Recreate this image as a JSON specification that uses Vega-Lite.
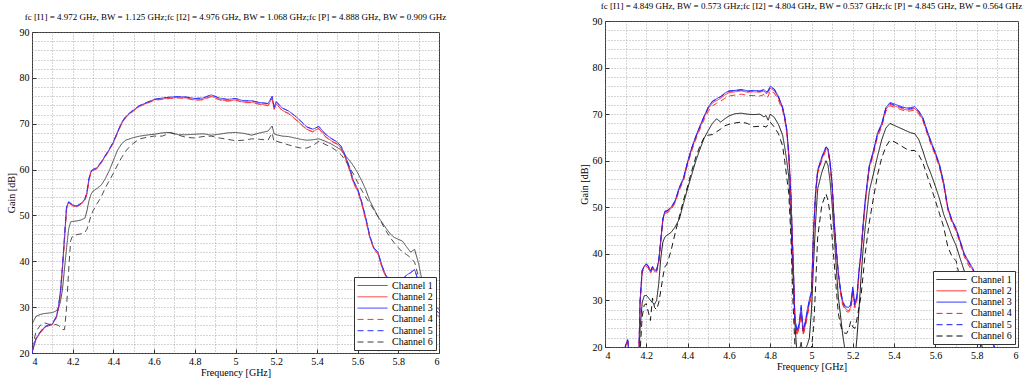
{
"$schema": "https://vega.github.io/schema/vega-lite/v6.json",
"padding": {"left": 5, "top": 1, "right": 0, "bottom": 0},
"spacing": 130,
"config": {
 "font": "Liberation Serif",
 "view": {"stroke": "#333", "strokeWidth": 1},
 "axis": {"labelFont": "Liberation Serif", "labelFontSize": 10, "labelColor": "#000", "titleFont": "Liberation Serif", "titleFontSize": 10, "titleFontWeight": "normal", "titleColor": "#000", "domain": false, "gridColor": "#888", "gridDash": [1, 2], "gridWidth": 0.7, "tickColor": "#333", "tickSize": -4, "labelPadding": 7, "titlePadding": 3},
 "axisX": {"titlePadding": 1},
 "title": {"font": "Liberation Serif", "fontSize": 9, "fontWeight": "normal", "color": "#000", "offset": 5},
 "legend": {"labelFont": "Liberation Serif", "labelFontSize": 10, "labelColor": "#000", "fillColor": "white", "strokeColor": "#333", "padding": 3, "symbolType": "M-3,0H3", "symbolStrokeWidth": 1, "symbolSize": 100, "symbolOffset": 10, "labelOffset": 14, "rowPadding": 0.3, "offset": 3, "title": null}
},
"datasets": {
"L": [
{"f":4.00,"c1":26.3,"c2":20.2,"c3":20.0,"c4":20.4,"c5":20.1,"c6":21.0},
{"f":4.02,"c1":28.0,"c2":23.0,"c3":23.2,"c4":23.1,"c5":23.3,"c6":24.7},
{"f":4.04,"c1":28.4,"c2":24.4,"c3":24.5,"c4":24.3,"c5":24.6,"c6":26.0},
{"f":4.06,"c1":28.6,"c2":25.5,"c3":25.6,"c4":25.4,"c5":25.7,"c6":26.6},
{"f":4.08,"c1":28.7,"c2":26.0,"c3":26.0,"c4":25.9,"c5":26.1,"c6":26.3},
{"f":4.10,"c1":28.8,"c2":26.2,"c3":26.3,"c4":26.2,"c5":26.4,"c6":26.2},
{"f":4.12,"c1":29.2,"c2":27.8,"c3":28.0,"c4":27.7,"c5":28.0,"c6":26.2},
{"f":4.13,"c1":29.8,"c2":29.8,"c3":30.0,"c4":29.7,"c5":30.1,"c6":26.0},
{"f":4.14,"c1":31.2,"c2":33.2,"c3":33.5,"c4":33.0,"c5":33.6,"c6":25.6},
{"f":4.15,"c1":34.0,"c2":38.6,"c3":39.0,"c4":38.4,"c5":39.1,"c6":25.1},
{"f":4.16,"c1":38.5,"c2":45.0,"c3":45.5,"c4":44.8,"c5":45.6,"c6":25.1},
{"f":4.17,"c1":43.0,"c2":51.6,"c3":52.0,"c4":51.4,"c5":52.1,"c6":30.0},
{"f":4.18,"c1":47.0,"c2":52.8,"c3":52.9,"c4":52.7,"c5":53.0,"c6":38.0},
{"f":4.19,"c1":48.6,"c2":52.5,"c3":52.6,"c4":52.4,"c5":52.7,"c6":44.5},
{"f":4.20,"c1":48.7,"c2":52.2,"c3":52.3,"c4":52.1,"c5":52.3,"c6":45.6},
{"f":4.22,"c1":48.8,"c2":51.9,"c3":52.0,"c4":51.8,"c5":52.1,"c6":45.8},
{"f":4.24,"c1":49.0,"c2":52.5,"c3":52.6,"c4":52.4,"c5":52.6,"c6":46.0},
{"f":4.26,"c1":49.4,"c2":53.4,"c3":53.5,"c4":53.3,"c5":53.6,"c6":46.3},
{"f":4.27,"c1":51.0,"c2":54.8,"c3":55.0,"c4":54.7,"c5":55.1,"c6":47.0},
{"f":4.28,"c1":53.2,"c2":57.8,"c3":58.0,"c4":57.6,"c5":58.1,"c6":48.4},
{"f":4.29,"c1":54.6,"c2":59.5,"c3":59.6,"c4":59.4,"c5":59.7,"c6":50.0},
{"f":4.30,"c1":55.3,"c2":59.9,"c3":60.0,"c4":59.8,"c5":60.0,"c6":51.0},
{"f":4.32,"c1":55.9,"c2":60.3,"c3":60.4,"c4":60.2,"c5":60.5,"c6":52.6},
{"f":4.34,"c1":56.6,"c2":61.5,"c3":61.6,"c4":61.4,"c5":61.7,"c6":54.0},
{"f":4.36,"c1":58.0,"c2":62.9,"c3":63.0,"c4":62.8,"c5":63.1,"c6":56.0},
{"f":4.38,"c1":59.8,"c2":64.3,"c3":64.4,"c4":64.2,"c5":64.5,"c6":57.6},
{"f":4.40,"c1":62.0,"c2":65.9,"c3":66.0,"c4":65.8,"c5":66.1,"c6":59.2},
{"f":4.42,"c1":64.2,"c2":68.0,"c3":68.2,"c4":67.9,"c5":68.2,"c6":61.0},
{"f":4.44,"c1":65.6,"c2":70.0,"c3":70.2,"c4":69.9,"c5":70.2,"c6":62.6},
{"f":4.46,"c1":66.4,"c2":71.4,"c3":71.5,"c4":71.3,"c5":71.6,"c6":64.0},
{"f":4.48,"c1":66.7,"c2":72.2,"c3":72.3,"c4":72.1,"c5":72.4,"c6":65.0},
{"f":4.50,"c1":67.0,"c2":72.9,"c3":73.0,"c4":72.8,"c5":73.1,"c6":65.8},
{"f":4.53,"c1":67.3,"c2":73.9,"c3":74.0,"c4":73.8,"c5":74.0,"c6":66.7},
{"f":4.56,"c1":67.5,"c2":74.4,"c3":74.5,"c4":74.3,"c5":74.6,"c6":67.0},
{"f":4.60,"c1":67.7,"c2":75.2,"c3":75.3,"c4":75.1,"c5":75.3,"c6":67.3},
{"f":4.64,"c1":68.0,"c2":75.4,"c3":75.6,"c4":75.3,"c5":75.6,"c6":67.3},
{"f":4.68,"c1":68.1,"c2":75.6,"c3":75.8,"c4":75.5,"c5":75.8,"c6":68.0},
{"f":4.72,"c1":67.6,"c2":75.7,"c3":75.9,"c4":75.6,"c5":75.9,"c6":67.5},
{"f":4.76,"c1":67.6,"c2":75.6,"c3":75.8,"c4":75.5,"c5":75.8,"c6":67.0},
{"f":4.80,"c1":67.7,"c2":75.2,"c3":75.5,"c4":75.1,"c5":75.5,"c6":66.9},
{"f":4.84,"c1":67.8,"c2":75.3,"c3":75.6,"c4":75.2,"c5":75.6,"c6":67.2},
{"f":4.88,"c1":67.5,"c2":76.0,"c3":76.3,"c4":75.9,"c5":76.3,"c6":67.3},
{"f":4.92,"c1":67.7,"c2":75.3,"c3":75.6,"c4":75.2,"c5":75.6,"c6":66.9},
{"f":4.96,"c1":68.0,"c2":75.0,"c3":75.3,"c4":74.9,"c5":75.3,"c6":66.6},
{"f":5.00,"c1":68.1,"c2":75.2,"c3":75.5,"c4":75.1,"c5":75.5,"c6":66.3},
{"f":5.04,"c1":67.9,"c2":74.7,"c3":75.0,"c4":74.6,"c5":75.0,"c6":66.4},
{"f":5.08,"c1":67.5,"c2":74.7,"c3":75.0,"c4":74.6,"c5":75.0,"c6":66.7},
{"f":5.12,"c1":68.0,"c2":74.3,"c3":74.6,"c4":74.2,"c5":74.6,"c6":66.6},
{"f":5.16,"c1":68.4,"c2":74.0,"c3":74.4,"c4":73.9,"c5":74.4,"c6":66.4},
{"f":5.18,"c1":69.5,"c2":75.5,"c3":76.0,"c4":75.4,"c5":75.9,"c6":68.0},
{"f":5.19,"c1":67.8,"c2":73.2,"c3":73.6,"c4":73.1,"c5":73.6,"c6":66.0},
{"f":5.20,"c1":67.6,"c2":74.4,"c3":74.8,"c4":74.3,"c5":74.8,"c6":66.2},
{"f":5.23,"c1":67.3,"c2":72.9,"c3":73.4,"c4":72.8,"c5":73.4,"c6":65.8},
{"f":5.26,"c1":67.2,"c2":72.3,"c3":72.8,"c4":72.2,"c5":72.8,"c6":65.4},
{"f":5.29,"c1":66.9,"c2":71.2,"c3":71.8,"c4":71.1,"c5":71.8,"c6":65.0},
{"f":5.32,"c1":66.6,"c2":70.0,"c3":70.6,"c4":69.9,"c5":70.6,"c6":64.7},
{"f":5.35,"c1":66.4,"c2":68.8,"c3":69.3,"c4":68.7,"c5":69.3,"c6":64.7},
{"f":5.38,"c1":66.5,"c2":68.3,"c3":68.8,"c4":68.2,"c5":68.8,"c6":65.2},
{"f":5.41,"c1":66.7,"c2":69.0,"c3":69.4,"c4":68.9,"c5":69.4,"c6":66.2},
{"f":5.44,"c1":66.2,"c2":67.3,"c3":67.8,"c4":67.2,"c5":67.8,"c6":65.5},
{"f":5.47,"c1":65.6,"c2":66.3,"c3":66.8,"c4":66.2,"c5":66.8,"c6":64.9},
{"f":5.50,"c1":64.8,"c2":65.6,"c3":66.0,"c4":65.5,"c5":66.0,"c6":64.0},
{"f":5.52,"c1":64.2,"c2":64.6,"c3":65.0,"c4":64.5,"c5":65.0,"c6":63.2},
{"f":5.54,"c1":63.0,"c2":62.6,"c3":63.0,"c4":62.5,"c5":63.0,"c6":62.0},
{"f":5.56,"c1":62.0,"c2":60.0,"c3":60.5,"c4":59.9,"c5":60.5,"c6":60.5},
{"f":5.58,"c1":60.8,"c2":57.1,"c3":57.5,"c4":57.0,"c5":57.5,"c6":59.0},
{"f":5.60,"c1":59.3,"c2":55.4,"c3":55.8,"c4":55.3,"c5":55.8,"c6":57.2},
{"f":5.62,"c1":57.6,"c2":52.6,"c3":53.0,"c4":52.5,"c5":53.0,"c6":55.5},
{"f":5.64,"c1":55.6,"c2":49.1,"c3":49.5,"c4":49.0,"c5":49.5,"c6":54.0},
{"f":5.66,"c1":53.2,"c2":45.2,"c3":45.5,"c4":45.1,"c5":45.5,"c6":52.6},
{"f":5.68,"c1":51.5,"c2":42.7,"c3":42.9,"c4":42.6,"c5":42.9,"c6":51.2},
{"f":5.70,"c1":49.7,"c2":41.7,"c3":42.0,"c4":41.6,"c5":42.0,"c6":49.8},
{"f":5.72,"c1":48.5,"c2":38.7,"c3":39.0,"c4":38.6,"c5":39.0,"c6":48.2},
{"f":5.74,"c1":47.2,"c2":36.5,"c3":36.8,"c4":36.4,"c5":36.8,"c6":46.6},
{"f":5.76,"c1":46.0,"c2":35.4,"c3":36.0,"c4":35.3,"c5":36.0,"c6":45.2},
{"f":5.78,"c1":45.2,"c2":35.4,"c3":36.4,"c4":35.2,"c5":36.4,"c6":44.0},
{"f":5.80,"c1":44.8,"c2":35.2,"c3":36.4,"c4":35.0,"c5":36.4,"c6":43.0},
{"f":5.82,"c1":44.4,"c2":34.8,"c3":36.0,"c4":34.6,"c5":36.0,"c6":42.0},
{"f":5.84,"c1":43.2,"c2":35.6,"c3":37.0,"c4":35.4,"c5":37.0,"c6":41.5},
{"f":5.86,"c1":42.0,"c2":36.0,"c3":37.5,"c4":35.8,"c5":37.5,"c6":40.8},
{"f":5.88,"c1":42.6,"c2":36.5,"c3":38.2,"c4":36.3,"c5":38.2,"c6":39.8},
{"f":5.90,"c1":39.5,"c2":34.2,"c3":35.5,"c4":34.0,"c5":35.5,"c6":36.5},
{"f":5.92,"c1":35.0,"c2":32.4,"c3":33.5,"c4":32.2,"c5":33.5,"c6":33.0},
{"f":5.94,"c1":32.0,"c2":31.0,"c3":32.0,"c4":30.8,"c5":32.0,"c6":31.6},
{"f":5.96,"c1":31.0,"c2":29.6,"c3":30.5,"c4":29.4,"c5":30.5,"c6":30.8},
{"f":5.98,"c1":30.2,"c2":28.7,"c3":29.5,"c4":28.5,"c5":29.5,"c6":30.0},
{"f":6.00,"c1":29.5,"c2":28.0,"c3":28.7,"c4":27.8,"c5":28.7,"c6":29.5}
],
"R": [
{"f":4.00,"c1":10,"c2":11,"c3":12,"c4":11,"c5":12,"c6":10},
{"f":4.05,"c1":10,"c2":13,"c3":14,"c4":13,"c5":14,"c6":10},
{"f":4.09,"c1":12,"c2":17.5,"c3":18,"c4":17.5,"c5":18,"c6":11},
{"f":4.10,"c1":13,"c2":20.3,"c3":20.5,"c4":20.2,"c5":20.5,"c6":12},
{"f":4.11,"c1":14,"c2":21.3,"c3":21.6,"c4":21.2,"c5":21.5,"c6":13},
{"f":4.12,"c1":12,"c2":16.5,"c3":17,"c4":16.5,"c5":17,"c6":11},
{"f":4.16,"c1":12,"c2":14,"c3":14,"c4":14,"c5":14,"c6":11},
{"f":4.165,"c1":18,"c2":20,"c3":20,"c4":20,"c5":20,"c6":14},
{"f":4.17,"c1":24,"c2":29.8,"c3":30,"c4":29.5,"c5":30,"c6":19},
{"f":4.18,"c1":29.5,"c2":36.3,"c3":36.5,"c4":36.0,"c5":36.4,"c6":26.5},
{"f":4.19,"c1":31.0,"c2":37.2,"c3":37.4,"c4":36.9,"c5":37.3,"c6":29.0},
{"f":4.20,"c1":31.1,"c2":37.7,"c3":37.9,"c4":37.4,"c5":37.8,"c6":29.3},
{"f":4.21,"c1":30.6,"c2":37.2,"c3":37.4,"c4":36.9,"c5":37.3,"c6":27.5},
{"f":4.22,"c1":30.0,"c2":36.0,"c3":36.3,"c4":35.8,"c5":36.2,"c6":25.7},
{"f":4.23,"c1":29.5,"c2":37.0,"c3":37.3,"c4":36.8,"c5":37.2,"c6":30.5},
{"f":4.24,"c1":29.2,"c2":36.2,"c3":36.5,"c4":36.0,"c5":36.4,"c6":28.5},
{"f":4.25,"c1":30.0,"c2":36.4,"c3":36.6,"c4":36.1,"c5":36.5,"c6":28.0},
{"f":4.26,"c1":33.5,"c2":38.3,"c3":38.5,"c4":38.0,"c5":38.4,"c6":29.5},
{"f":4.27,"c1":39.0,"c2":42.8,"c3":43.0,"c4":42.5,"c5":42.9,"c6":32.0},
{"f":4.28,"c1":42.5,"c2":47.3,"c3":47.5,"c4":47.0,"c5":47.4,"c6":35.0},
{"f":4.29,"c1":43.6,"c2":49.0,"c3":49.2,"c4":48.7,"c5":49.1,"c6":37.2},
{"f":4.30,"c1":44.0,"c2":49.0,"c3":49.3,"c4":48.8,"c5":49.2,"c6":37.8},
{"f":4.32,"c1":44.6,"c2":49.7,"c3":50.0,"c4":49.4,"c5":49.9,"c6":40.7},
{"f":4.34,"c1":45.8,"c2":51.2,"c3":51.5,"c4":51.0,"c5":51.4,"c6":44.5},
{"f":4.36,"c1":47.5,"c2":54.0,"c3":54.3,"c4":53.7,"c5":54.2,"c6":48.0},
{"f":4.38,"c1":50.8,"c2":56.0,"c3":56.3,"c4":55.7,"c5":56.2,"c6":51.5},
{"f":4.40,"c1":54.0,"c2":59.5,"c3":59.8,"c4":59.2,"c5":59.7,"c6":54.5},
{"f":4.42,"c1":57.0,"c2":62.5,"c3":62.8,"c4":62.1,"c5":62.7,"c6":57.8},
{"f":4.44,"c1":60.0,"c2":65.0,"c3":65.3,"c4":64.6,"c5":65.2,"c6":60.8},
{"f":4.46,"c1":62.5,"c2":67.2,"c3":67.5,"c4":66.8,"c5":67.4,"c6":63.2},
{"f":4.48,"c1":64.8,"c2":69.3,"c3":69.6,"c4":68.8,"c5":69.5,"c6":65.0},
{"f":4.50,"c1":66.5,"c2":71.2,"c3":71.5,"c4":70.6,"c5":71.4,"c6":65.5},
{"f":4.52,"c1":68.0,"c2":72.4,"c3":72.8,"c4":71.8,"c5":72.7,"c6":65.6},
{"f":4.54,"c1":69.0,"c2":72.9,"c3":73.3,"c4":72.3,"c5":73.2,"c6":66.2},
{"f":4.56,"c1":68.3,"c2":73.4,"c3":73.8,"c4":72.8,"c5":73.7,"c6":66.8},
{"f":4.58,"c1":69.0,"c2":74.1,"c3":74.5,"c4":73.4,"c5":74.4,"c6":67.5},
{"f":4.60,"c1":69.6,"c2":74.6,"c3":75.0,"c4":73.9,"c5":74.9,"c6":67.8},
{"f":4.63,"c1":70.1,"c2":74.8,"c3":75.1,"c4":74.1,"c5":75.0,"c6":68.1},
{"f":4.66,"c1":70.2,"c2":75.0,"c3":75.3,"c4":74.3,"c5":75.2,"c6":68.3},
{"f":4.69,"c1":70.0,"c2":74.7,"c3":75.0,"c4":74.0,"c5":74.9,"c6":68.0},
{"f":4.72,"c1":69.9,"c2":74.8,"c3":75.1,"c4":74.0,"c5":75.0,"c6":67.3},
{"f":4.75,"c1":70.0,"c2":74.7,"c3":75.0,"c4":73.9,"c5":74.9,"c6":67.4},
{"f":4.77,"c1":69.4,"c2":75.0,"c3":75.3,"c4":74.2,"c5":75.2,"c6":67.4},
{"f":4.78,"c1":69.7,"c2":74.4,"c3":74.8,"c4":73.5,"c5":74.7,"c6":67.2},
{"f":4.79,"c1":68.7,"c2":74.6,"c3":75.0,"c4":73.8,"c5":74.9,"c6":67.8},
{"f":4.80,"c1":70.0,"c2":75.6,"c3":76.0,"c4":75.0,"c5":75.9,"c6":68.3},
{"f":4.82,"c1":69.3,"c2":75.0,"c3":75.4,"c4":74.5,"c5":75.3,"c6":67.2},
{"f":4.84,"c1":67.8,"c2":73.5,"c3":73.8,"c4":73.0,"c5":73.7,"c6":65.8},
{"f":4.86,"c1":65.5,"c2":71.2,"c3":71.5,"c4":70.8,"c5":71.4,"c6":63.2},
{"f":4.87,"c1":63.0,"c2":69.2,"c3":69.5,"c4":68.8,"c5":69.4,"c6":60.0},
{"f":4.88,"c1":60.0,"c2":66.5,"c3":66.8,"c4":66.0,"c5":66.7,"c6":56.5},
{"f":4.89,"c1":56.5,"c2":61.2,"c3":61.5,"c4":60.8,"c5":61.4,"c6":52.9},
{"f":4.90,"c1":48.0,"c2":52.6,"c3":53.0,"c4":52.2,"c5":52.9,"c6":44.0},
{"f":4.91,"c1":36.0,"c2":39.5,"c3":40.0,"c4":39.2,"c5":39.8,"c6":30.0},
{"f":4.92,"c1":25.0,"c2":25.5,"c3":26.0,"c4":25.2,"c5":25.8,"c6":20.0},
{"f":4.93,"c1":18.0,"c2":22.8,"c3":23.5,"c4":22.5,"c5":23.3,"c6":15},
{"f":4.94,"c1":19.0,"c2":24.3,"c3":25.0,"c4":24.0,"c5":24.8,"c6":16},
{"f":4.95,"c1":21.0,"c2":27.5,"c3":29.0,"c4":27.0,"c5":28.5,"c6":19},
{"f":4.96,"c1":17.5,"c2":22.8,"c3":23.6,"c4":22.6,"c5":23.4,"c6":15},
{"f":4.97,"c1":19.5,"c2":24.6,"c3":25.5,"c4":24.3,"c5":25.2,"c6":17},
{"f":4.98,"c1":20.5,"c2":27.0,"c3":28.0,"c4":26.6,"c5":27.7,"c6":18},
{"f":4.99,"c1":22.0,"c2":29.5,"c3":30.3,"c4":29.2,"c5":30.1,"c6":18.5},
{"f":5.00,"c1":28.0,"c2":31.3,"c3":32.0,"c4":31.0,"c5":31.8,"c6":20},
{"f":5.01,"c1":38.0,"c2":44.5,"c3":45.0,"c4":44.2,"c5":44.8,"c6":24},
{"f":5.02,"c1":47.0,"c2":53.0,"c3":53.5,"c4":52.7,"c5":53.3,"c6":33},
{"f":5.03,"c1":54.0,"c2":57.6,"c3":58.0,"c4":57.3,"c5":57.9,"c6":43.6},
{"f":5.05,"c1":57.5,"c2":60.4,"c3":60.8,"c4":60.1,"c5":60.7,"c6":50.5},
{"f":5.07,"c1":60.0,"c2":62.6,"c3":63.0,"c4":62.3,"c5":62.9,"c6":52.9},
{"f":5.08,"c1":59.0,"c2":62.2,"c3":62.6,"c4":61.9,"c5":62.5,"c6":51.5},
{"f":5.09,"c1":55.5,"c2":59.4,"c3":59.8,"c4":59.1,"c5":59.7,"c6":48.5},
{"f":5.10,"c1":50.5,"c2":54.6,"c3":55.0,"c4":54.3,"c5":54.9,"c6":43.5},
{"f":5.11,"c1":44.0,"c2":46.6,"c3":47.0,"c4":46.3,"c5":46.9,"c6":38},
{"f":5.12,"c1":37.0,"c2":40.6,"c3":41.0,"c4":40.3,"c5":40.9,"c6":32.5},
{"f":5.13,"c1":30.7,"c2":35.6,"c3":36.0,"c4":35.3,"c5":35.9,"c6":27.2},
{"f":5.14,"c1":27.0,"c2":32.0,"c3":32.5,"c4":31.7,"c5":32.4,"c6":24.8},
{"f":5.15,"c1":23.0,"c2":29.5,"c3":30.0,"c4":29.2,"c5":29.9,"c6":23.4},
{"f":5.16,"c1":20.0,"c2":28.4,"c3":29.0,"c4":28.1,"c5":28.8,"c6":23.0},
{"f":5.17,"c1":16.0,"c2":28.0,"c3":28.6,"c4":27.6,"c5":28.4,"c6":22.9},
{"f":5.18,"c1":13.0,"c2":27.8,"c3":28.5,"c4":27.5,"c5":28.3,"c6":23.8},
{"f":5.19,"c1":14.0,"c2":28.5,"c3":29.2,"c4":28.1,"c5":29.0,"c6":25.5},
{"f":5.20,"c1":15.0,"c2":31.8,"c3":32.9,"c4":31.2,"c5":32.6,"c6":24.3},
{"f":5.21,"c1":17.0,"c2":28.7,"c3":29.3,"c4":28.4,"c5":29.1,"c6":24.0},
{"f":5.22,"c1":22.0,"c2":30.4,"c3":31.0,"c4":30.0,"c5":30.8,"c6":26.0},
{"f":5.23,"c1":28.0,"c2":36.0,"c3":36.5,"c4":35.6,"c5":36.3,"c6":28.5},
{"f":5.24,"c1":35.0,"c2":40.0,"c3":40.5,"c4":39.6,"c5":40.3,"c6":31.0},
{"f":5.25,"c1":41.0,"c2":46.0,"c3":46.5,"c4":45.6,"c5":46.3,"c6":35.5},
{"f":5.26,"c1":45.7,"c2":51.0,"c3":51.5,"c4":50.6,"c5":51.3,"c6":40.0},
{"f":5.27,"c1":49.5,"c2":55.0,"c3":55.5,"c4":54.6,"c5":55.3,"c6":43.5},
{"f":5.28,"c1":53.5,"c2":58.6,"c3":59.0,"c4":58.2,"c5":58.8,"c6":46.8},
{"f":5.30,"c1":57.2,"c2":61.8,"c3":62.2,"c4":61.4,"c5":62.0,"c6":52.0},
{"f":5.32,"c1":61.0,"c2":65.6,"c3":66.0,"c4":65.2,"c5":65.8,"c6":57.0},
{"f":5.34,"c1":64.5,"c2":67.6,"c3":68.0,"c4":67.2,"c5":67.8,"c6":60.6},
{"f":5.36,"c1":67.0,"c2":71.0,"c3":71.4,"c4":70.6,"c5":71.2,"c6":63.0},
{"f":5.38,"c1":68.0,"c2":72.1,"c3":72.5,"c4":71.8,"c5":72.3,"c6":64.4},
{"f":5.40,"c1":67.6,"c2":71.8,"c3":72.2,"c4":71.5,"c5":72.0,"c6":64.1},
{"f":5.43,"c1":67.0,"c2":71.3,"c3":71.7,"c4":71.0,"c5":71.5,"c6":63.3},
{"f":5.46,"c1":66.4,"c2":70.9,"c3":71.3,"c4":70.6,"c5":71.1,"c6":62.5},
{"f":5.48,"c1":66.0,"c2":71.0,"c3":71.4,"c4":70.7,"c5":71.2,"c6":62.2},
{"f":5.50,"c1":65.8,"c2":71.2,"c3":71.6,"c4":70.9,"c5":71.4,"c6":62.2},
{"f":5.52,"c1":64.5,"c2":70.3,"c3":70.7,"c4":70.0,"c5":70.5,"c6":61.2},
{"f":5.54,"c1":62.0,"c2":68.8,"c3":69.2,"c4":68.5,"c5":69.0,"c6":59.5},
{"f":5.56,"c1":59.2,"c2":66.1,"c3":66.5,"c4":65.8,"c5":66.3,"c6":56.8},
{"f":5.58,"c1":57.0,"c2":63.6,"c3":64.0,"c4":63.3,"c5":63.8,"c6":54.2},
{"f":5.60,"c1":54.5,"c2":61.4,"c3":61.8,"c4":61.1,"c5":61.6,"c6":51.4},
{"f":5.62,"c1":51.8,"c2":58.8,"c3":59.2,"c4":58.5,"c5":59.0,"c6":48.6},
{"f":5.64,"c1":48.5,"c2":55.0,"c3":55.4,"c4":54.7,"c5":55.2,"c6":45.8},
{"f":5.66,"c1":46.2,"c2":49.7,"c3":50.0,"c4":49.4,"c5":49.9,"c6":41.5},
{"f":5.68,"c1":43.8,"c2":47.0,"c3":47.3,"c4":46.7,"c5":47.2,"c6":39.5},
{"f":5.70,"c1":41.8,"c2":45.2,"c3":45.5,"c4":44.9,"c5":45.4,"c6":38.5},
{"f":5.72,"c1":39.0,"c2":42.5,"c3":42.8,"c4":42.2,"c5":42.7,"c6":34.5},
{"f":5.74,"c1":36.3,"c2":39.7,"c3":40.0,"c4":39.4,"c5":39.9,"c6":31.5},
{"f":5.76,"c1":33.0,"c2":38.0,"c3":38.5,"c4":37.6,"c5":38.3,"c6":28.6},
{"f":5.78,"c1":29.0,"c2":36.6,"c3":37.0,"c4":36.2,"c5":36.8,"c6":26.0},
{"f":5.80,"c1":25.0,"c2":34.6,"c3":35.0,"c4":34.2,"c5":34.8,"c6":23.0},
{"f":5.82,"c1":21.0,"c2":29.1,"c3":29.5,"c4":28.8,"c5":29.3,"c6":20.0},
{"f":5.84,"c1":18.0,"c2":25.4,"c3":25.8,"c4":25.1,"c5":25.6,"c6":17},
{"f":5.86,"c1":15,"c2":22.8,"c3":23.2,"c4":22.5,"c5":23.0,"c6":14},
{"f":5.88,"c1":12,"c2":20.4,"c3":20.8,"c4":20.1,"c5":20.6,"c6":12},
{"f":5.90,"c1":10,"c2":18.1,"c3":18.5,"c4":17.8,"c5":18.3,"c6":10},
{"f":5.95,"c1":10,"c2":13.6,"c3":14,"c4":13.4,"c5":13.8,"c6":10},
{"f":6.00,"c1":10,"c2":9.6,"c3":10,"c4":9.4,"c5":9.8,"c6":10}
]
},
"hconcat": [
{
 "spacing": -10,
 "resolve": {"scale": {"color": "independent", "strokeDash": "independent"}, "legend": {"color": "independent", "strokeDash": "independent"}},
 "vconcat": [
 {
  "width": 10, "height": 1,
  "view": {"stroke": null},
  "data": {"values": [{"a": 0}]},
  "mark": {"type": "point", "size": 0, "opacity": 0},
  "encoding": {}
 },
 {
 "width": 407, "height": 321,
 "title": {"text": "fc [I1] = 4.972 GHz, BW = 1.125 GHz;fc [I2] = 4.976 GHz, BW = 1.068 GHz;fc [P] = 4.888 GHz, BW = 0.909 GHz"},
 "data": {"name": "L"},
 "transform": [{"fold": ["c1","c2","c3","c4","c5","c6"], "as": ["ch","g"]}],
 "mark": {"type": "line", "clip": true, "strokeWidth": 0.9},
 "encoding": {
  "x": {"field": "f", "type": "quantitative", "title": "Frequency [GHz]", "scale": {"domain": [4,6], "nice": false, "zero": false},
   "axis": {"values": [4,4.1,4.2,4.3,4.4,4.5,4.6,4.7,4.8,4.9,5,5.1,5.2,5.3,5.4,5.5,5.6,5.7,5.8,5.9,6], "format": "~g", "labelExpr": "abs(datum.value*5 - round(datum.value*5)) < 0.001 ? datum.label : ''", "tickOpacity": {"condition": {"test": "abs(datum.value*5 - round(datum.value*5)) < 0.001", "value": 1}, "value": 0}, "grid": true}},
  "y": {"field": "g", "type": "quantitative", "title": "Gain [dB]", "scale": {"domain": [20,90], "nice": false, "zero": false},
   "axis": {"values": [20,22,24,26,28,30,32,34,36,38,40,42,44,46,48,50,52,54,56,58,60,62,64,66,68,70,72,74,76,78,80,82,84,86,88,90], "labelExpr": "datum.value % 10 == 0 ? datum.label : ''", "tickOpacity": {"condition": {"test": "datum.value % 10 == 0", "value": 1}, "value": 0}, "grid": true}},
  "color": {"field": "ch", "type": "nominal", "scale": {"domain": ["c1","c2","c3","c4","c5","c6"], "range": ["#3a3a3a","#ff3030","#3030ff","#ff3030","#3030ff","#3a3a3a"]},
   "legend": {"orient": "bottom-right", "labelExpr": "'Channel ' + slice(datum.label, 1)"}},
  "strokeDash": {"field": "ch", "type": "nominal", "scale": {"domain": ["c1","c2","c3","c4","c5","c6"], "range": [[1,0],[1,0],[1,0],[6,4],[6,4],[6,4]]},
   "legend": {"orient": "bottom-right", "labelExpr": "'Channel ' + slice(datum.label, 1)"}}
 }
 }
 ]
},
{
 "resolve": {"scale": {"color": "independent", "strokeDash": "independent"}, "legend": {"color": "independent", "strokeDash": "independent"}},
 "vconcat": [
 {
 "width": 413, "height": 326,
 "title": {"text": "fc [I1] = 4.849 GHz, BW = 0.573 GHz;fc [I2] = 4.804 GHz, BW = 0.537 GHz;fc [P] = 4.845 GHz, BW = 0.564 GHz"},
 "data": {"name": "R"},
 "transform": [{"fold": ["c1","c2","c3","c4","c5","c6"], "as": ["ch","g"]}],
 "mark": {"type": "line", "clip": true, "strokeWidth": 0.9},
 "encoding": {
  "x": {"field": "f", "type": "quantitative", "title": "Frequency [GHz]", "scale": {"domain": [4,6], "nice": false, "zero": false},
   "axis": {"values": [4,4.1,4.2,4.3,4.4,4.5,4.6,4.7,4.8,4.9,5,5.1,5.2,5.3,5.4,5.5,5.6,5.7,5.8,5.9,6], "format": "~g", "labelExpr": "abs(datum.value*5 - round(datum.value*5)) < 0.001 ? datum.label : ''", "tickOpacity": {"condition": {"test": "abs(datum.value*5 - round(datum.value*5)) < 0.001", "value": 1}, "value": 0}, "grid": true}},
  "y": {"field": "g", "type": "quantitative", "title": "Gain [dB]", "scale": {"domain": [20,90], "nice": false, "zero": false},
   "axis": {"values": [20,22,24,26,28,30,32,34,36,38,40,42,44,46,48,50,52,54,56,58,60,62,64,66,68,70,72,74,76,78,80,82,84,86,88,90], "labelExpr": "datum.value % 10 == 0 ? datum.label : ''", "tickOpacity": {"condition": {"test": "datum.value % 10 == 0", "value": 1}, "value": 0}, "grid": true}},
  "color": {"field": "ch", "type": "nominal", "scale": {"domain": ["c1","c2","c3","c4","c5","c6"], "range": ["#000000","#ff1a1a","#1a1aff","#ff1a1a","#1a1aff","#000000"]},
   "legend": {"orient": "bottom-right", "labelExpr": "'Channel ' + slice(datum.label, 1)"}},
  "strokeDash": {"field": "ch", "type": "nominal", "scale": {"domain": ["c1","c2","c3","c4","c5","c6"], "range": [[1,0],[1,0],[1,0],[6,4],[6,4],[6,4]]},
   "legend": {"orient": "bottom-right", "labelExpr": "'Channel ' + slice(datum.label, 1)"}}
 }
 }
 ]
}
],
"resolve": {"scale": {"color": "independent", "strokeDash": "independent"}, "legend": {"color": "independent", "strokeDash": "independent"}}
}
